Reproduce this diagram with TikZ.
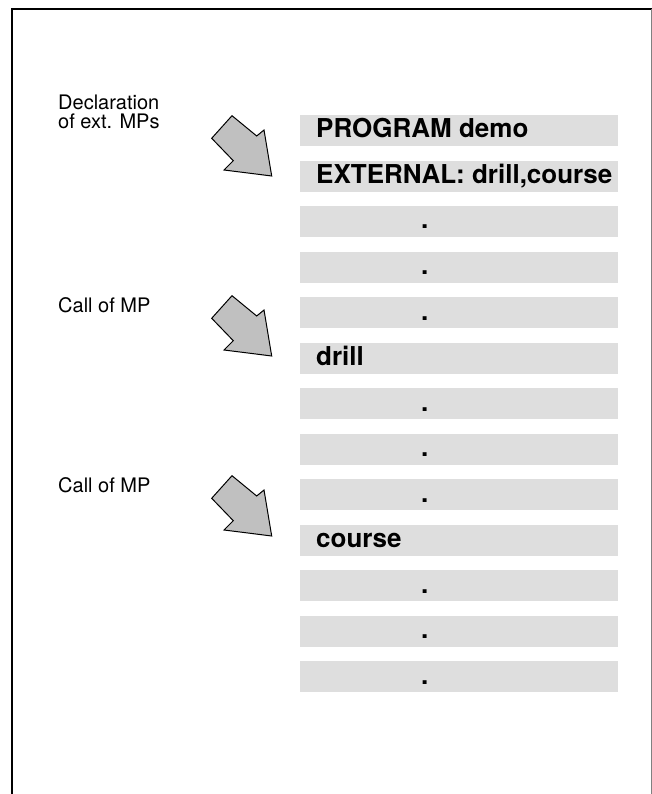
\documentclass[tikz,border=0pt]{standalone}
\usepackage{fontspec}
\setmainfont{TeX Gyre Heros}
\definecolor{barfill}{HTML}{DEDEDE}
\definecolor{arrowfill}{HTML}{C0C0C0}
\begin{document}
\begin{tikzpicture}[x=1pt,y=-1pt,
  bar/.style={rectangle, fill=barfill, draw=none, inner sep=0pt, minimum width=318pt, minimum height=31pt, anchor=north west},
  bartext/.style={inner sep=0pt, anchor=base west, font=\fontsize{26}{30}\selectfont\bfseries},
  lbl/.style={inner sep=0pt, font=\fontsize{20}{19}\selectfont, align=left},
  bigarrow/.style={draw=black, line width=1pt, fill=arrowfill, line join=miter}]
\useasboundingbox (0,0) rectangle (652,794);
% frame
\draw[line width=2pt] (12.2,795) -- (12.2,9.5) -- (653,9.5);
\draw[gray, line width=1pt] (651,9.5) -- (651,795);
% bars
\node[bar] (b0) at (300,115) {};
\node[bar] (b1) at (300,160.5) {};
\node[bar] (b2) at (300,206) {};
\node[bar] (b3) at (300,251.5) {};
\node[bar] (b4) at (300,297) {};
\node[bar] (b5) at (300,342.5) {};
\node[bar] (b6) at (300,388) {};
\node[bar] (b7) at (300,433.5) {};
\node[bar] (b8) at (300,479) {};
\node[bar] (b9) at (300,524.5) {};
\node[bar] (b10) at (300,570) {};
\node[bar] (b11) at (300,615.5) {};
\node[bar] (b12) at (300,661) {};
% bar texts
\node[bartext] (t0) at (316,138) {PROGRAM demo};
\node[bartext] (t1) at (316,183.5) {EXTERNAL: drill,course};
\node[bartext] (t2) at (421,229) {.};
\node[bartext] (t3) at (421,274.5) {.};
\node[bartext] (t4) at (421,320) {.};
\node[bartext] (t5) at (316,365.5) {drill};
\node[bartext] (t6) at (421,411) {.};
\node[bartext] (t7) at (421,456.5) {.};
\node[bartext] (t8) at (421,502) {.};
\node[bartext] (t9) at (316,547.5) {course};
\node[bartext] (t10) at (421,593) {.};
\node[bartext] (t11) at (421,638.5) {.};
\node[bartext] (t12) at (421,684) {.};
% labels
\node[lbl, anchor=north west] (l1) at (58,94.5) {Declaration\\of ext. MPs};
\node[lbl, anchor=base west] (l2) at (58,312) {Call of MP};
\node[lbl, anchor=base west] (l3) at (58,492) {Call of MP};
% block arrows
\foreach \dy in {0,180,360} {
  \draw[bigarrow] (211.7,138.3+\dy) -- (232,115.7+\dy) -- (256.7,136+\dy) -- (264,130+\dy)
    -- (271.7,176+\dy) -- (224,170+\dy) -- (233.3,160.7+\dy) -- cycle;
}
\end{tikzpicture}
\end{document}
